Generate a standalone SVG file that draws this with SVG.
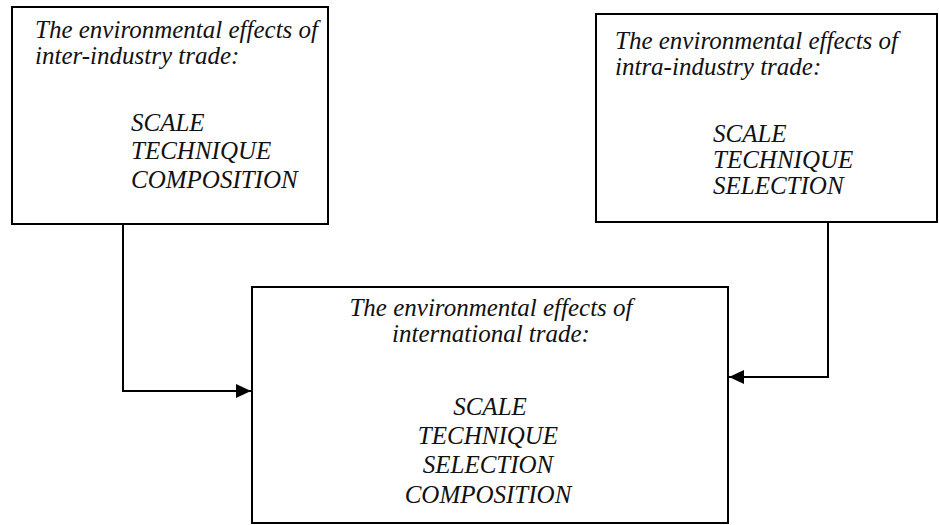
<svg xmlns="http://www.w3.org/2000/svg" width="939" height="525" viewBox="0 0 939 525">
<style>
.box{fill:#fff;stroke:#000;stroke-width:2}
.t{font-family:"Liberation Serif","Times New Roman",serif;font-style:italic;font-size:25px;fill:#111}
.c{text-anchor:middle}
.con{fill:none;stroke:#000;stroke-width:2}
</style>
<defs>
<marker id="arr" markerWidth="16" markerHeight="14" refX="15" refY="7" orient="auto" markerUnits="userSpaceOnUse">
<path d="M0,0 L15,7 L0,14 Z" fill="#000"/>
</marker>
</defs>
<g id="inter">
<rect class="box" x="12" y="7" width="316" height="217"/>
<text class="t" x="35" y="38">The environmental effects of</text>
<text class="t" x="35" y="64">inter-industry trade:</text>
<text class="t" x="131" y="131">SCALE</text>
<text class="t" x="131" y="159">TECHNIQUE</text>
<text class="t" x="131" y="188">COMPOSITION</text>
</g>
<g id="intra">
<rect class="box" x="596" y="14" width="341" height="208"/>
<text class="t" x="615" y="49">The environmental effects of</text>
<text class="t" x="615" y="75">intra-industry trade:</text>
<text class="t" x="713" y="142">SCALE</text>
<text class="t" x="713" y="168">TECHNIQUE</text>
<text class="t" x="713" y="194">SELECTION</text>
</g>
<g id="international">
<rect class="box" x="252" y="287" width="476" height="236"/>
<text class="t c" x="491" y="316">The environmental effects of</text>
<text class="t c" x="491" y="342">international trade:</text>
<text class="t c" x="490" y="415">SCALE</text>
<text class="t c" x="488" y="444">TECHNIQUE</text>
<text class="t c" x="488" y="473">SELECTION</text>
<text class="t c" x="488" y="503">COMPOSITION</text>
</g>
<g id="connectors">
<path class="con" d="M123,224 V391 H251" marker-end="url(#arr)"/>
<path class="con" d="M828,222 V377 H729" marker-end="url(#arr)"/>
</g>
</svg>
